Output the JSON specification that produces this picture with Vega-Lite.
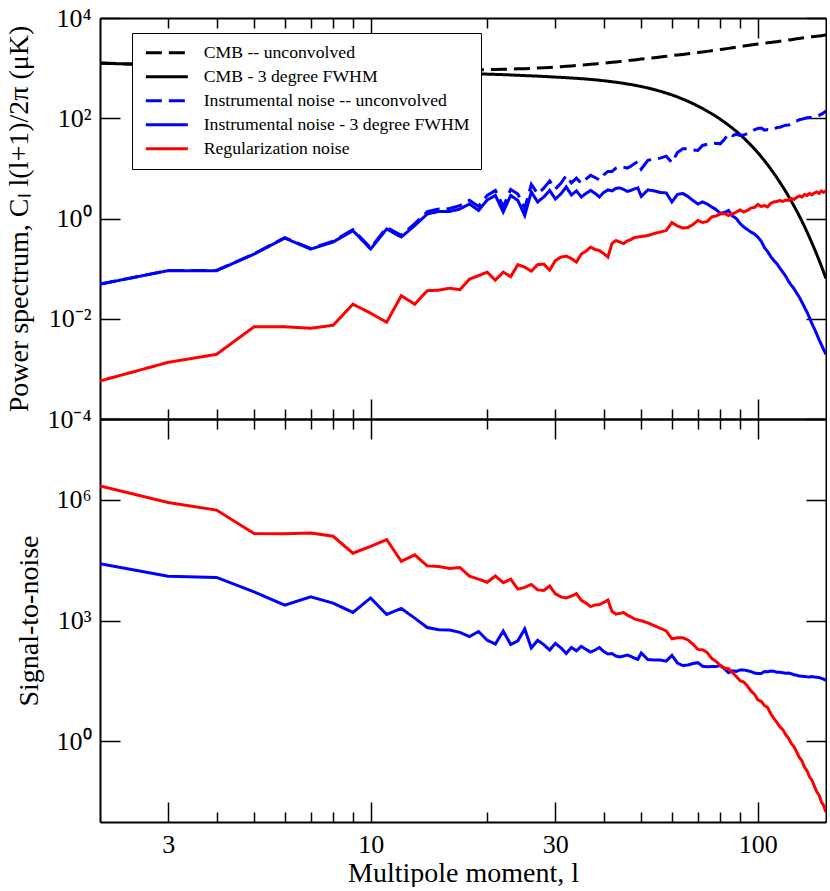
{
  "$schema": "https://vega.github.io/schema/vega-lite/v6.json",
  "background": "white",
  "padding": {"left": 5, "top": 5, "right": 0, "bottom": 0},
  "bounds": "flush",
  "spacing": 0,
  "config": {
    "view": {"stroke": null},
    "font": "Liberation Serif",
    "axis": {
      "labelFont": "Liberation Serif", "titleFont": "Liberation Serif",
      "labelColor": "black", "titleColor": "black", "domainColor": "black", "tickColor": "black",
      "domainWidth": 2, "tickWidth": 1.5, "grid": false,
      "labelFontSize": 26, "titleFontSize": 28, "titleFontWeight": "normal",
      "labelOverlap": false, "labelFlush": false
    }
  },
  "datasets": {
    "spectra": [
      {"l":2,"cmb":1259,"cmb_beam":1255,"noise":0.0491,"noise_beam":0.049,"reg":0.000575,"snr_noise":25700,"snr_reg":2188000},
      {"l":3,"cmb":1148,"cmb_beam":1141,"noise":0.0918,"noise_beam":0.0912,"reg":0.00135,"snr_noise":12590,"snr_reg":851100},
      {"l":4,"cmb":1072,"cmb_beam":1062,"noise":0.0921,"noise_beam":0.0912,"reg":0.00195,"snr_noise":11750,"snr_reg":549500},
      {"l":5,"cmb":1023,"cmb_beam":1008,"noise":0.198,"noise_beam":0.195,"reg":0.00692,"snr_noise":5129,"snr_reg":144500},
      {"l":6,"cmb":1000,"cmb_beam":979,"noise":0.416,"noise_beam":0.407,"reg":0.00692,"snr_noise":2399,"snr_reg":141300},
      {"l":7,"cmb":977,"cmb_beam":951,"noise":0.252,"noise_beam":0.2455,"reg":0.00646,"snr_noise":3890,"snr_reg":147900},
      {"l":8,"cmb":955,"cmb_beam":922,"noise":0.351,"noise_beam":0.339,"reg":0.00741,"snr_noise":2692,"snr_reg":123000},
      {"l":9,"cmb":944,"cmb_beam":903,"noise":0.601,"noise_beam":0.575,"reg":0.0195,"snr_noise":1585,"snr_reg":46770},
      {"l":10,"cmb":933,"cmb_beam":884,"noise":0.259,"noise_beam":0.2455,"reg":0.0129,"snr_noise":3631,"snr_reg":69180},
      {"l":11,"cmb":923,"cmb_beam":865,"noise":0.658,"noise_beam":0.617,"reg":0.00851,"snr_noise":1413,"snr_reg":102300},
      {"l":12,"cmb":912,"cmb_beam":845,"noise":0.461,"noise_beam":0.4266,"reg":0.0288,"snr_noise":1995,"snr_reg":29510},
      {"l":13,"cmb":912,"cmb_beam":834,"noise":0.792,"noise_beam":0.724,"reg":0.0195,"snr_noise":1148,"snr_reg":42660},
      {"l":14,"cmb":912,"cmb_beam":822,"noise":1.365,"noise_beam":1.23,"reg":0.0363,"snr_noise":668,"snr_reg":22650},
      {"l":15,"cmb":912,"cmb_beam":810,"noise":1.554,"noise_beam":1.38,"reg":0.0372,"snr_noise":587,"snr_reg":21800},
      {"l":16,"cmb":912,"cmb_beam":797,"noise":1.579,"noise_beam":1.38,"reg":0.0407,"snr_noise":578,"snr_reg":19570},
      {"l":17,"cmb":916,"cmb_beam":788,"noise":1.802,"noise_beam":1.549,"reg":0.038,"snr_noise":509,"snr_reg":20720},
      {"l":18,"cmb":923,"cmb_beam":779,"noise":2.309,"noise_beam":1.95,"reg":0.0617,"snr_noise":400,"snr_reg":12640},
      {"l":19,"cmb":929,"cmb_beam":770,"noise":1.744,"noise_beam":1.445,"reg":0.0724,"snr_noise":533,"snr_reg":10630},
      {"l":20,"cmb":933,"cmb_beam":759,"noise":2.884,"noise_beam":2.344,"reg":0.0851,"snr_noise":324,"snr_reg":8913},
      {"l":21,"cmb":942,"cmb_beam":750,"noise":3.624,"noise_beam":2.884,"reg":0.0589,"snr_noise":260,"snr_reg":12730},
      {"l":22,"cmb":951,"cmb_beam":741,"noise":1.732,"noise_beam":1.349,"reg":0.0851,"snr_noise":549,"snr_reg":8702},
      {"l":23,"cmb":959,"cmb_beam":731,"noise":3.789,"noise_beam":2.884,"reg":0.0692,"snr_noise":253,"snr_reg":10560},
      {"l":24,"cmb":968,"cmb_beam":720,"noise":3.082,"noise_beam":2.291,"reg":0.1202,"snr_noise":314,"snr_reg":5990},
      {"l":25,"cmb":977,"cmb_beam":709,"noise":1.583,"noise_beam":1.148,"reg":0.1072,"snr_noise":618,"snr_reg":6615},
      {"l":26,"cmb":991,"cmb_beam":701,"noise":4.793,"noise_beam":3.388,"reg":0.0891,"snr_noise":207,"snr_reg":7861},
      {"l":27,"cmb":1005,"cmb_beam":692,"noise":3.106,"noise_beam":2.138,"reg":0.1202,"snr_noise":324,"snr_reg":5752},
      {"l":28,"cmb":1019,"cmb_beam":682,"noise":4.019,"noise_beam":2.692,"reg":0.123,"snr_noise":253,"snr_reg":5544},
      {"l":29,"cmb":1033,"cmb_beam":672,"noise":5.58,"noise_beam":3.631,"reg":0.0933,"snr_noise":185,"snr_reg":7201},
      {"l":30,"cmb":1047,"cmb_beam":662,"noise":3.886,"noise_beam":2.455,"reg":0.1445,"snr_noise":270,"snr_reg":4577},
      {"l":31,"cmb":1067,"cmb_beam":654,"noise":5.044,"noise_beam":3.09,"reg":0.1698,"snr_noise":211,"snr_reg":3848},
      {"l":32,"cmb":1086,"cmb_beam":645,"noise":7.186,"noise_beam":4.266,"reg":0.1778,"snr_noise":151,"snr_reg":3628},
      {"l":33,"cmb":1107,"cmb_beam":636,"noise":5.137,"noise_beam":2.951,"reg":0.1585,"snr_noise":215,"snr_reg":4012},
      {"l":34,"cmb":1127,"cmb_beam":626,"noise":6.387,"noise_beam":3.548,"reg":0.1349,"snr_noise":177,"snr_reg":4644},
      {"l":35,"cmb":1148,"cmb_beam":616,"noise":5.015,"noise_beam":2.692,"reg":0.195,"snr_noise":229,"snr_reg":3160},
      {"l":36,"cmb":1169,"cmb_beam":606,"noise":6.105,"noise_beam":3.162,"reg":0.2239,"snr_noise":192,"snr_reg":2706},
      {"l":37,"cmb":1191,"cmb_beam":595,"noise":7.271,"noise_beam":3.631,"reg":0.2692,"snr_noise":164,"snr_reg":2210},
      {"l":38,"cmb":1213,"cmb_beam":584,"noise":6.576,"noise_beam":3.162,"reg":0.2399,"snr_noise":185,"snr_reg":2433},
      {"l":39,"cmb":1236,"cmb_beam":572,"noise":5.816,"noise_beam":2.692,"reg":0.2291,"snr_noise":213,"snr_reg":2497},
      {"l":40,"cmb":1259,"cmb_beam":560,"noise":7.444,"noise_beam":3.311,"reg":0.1995,"snr_noise":169,"snr_reg":2807},
      {"l":41,"cmb":1282,"cmb_beam":548,"noise":8.698,"noise_beam":3.715,"reg":0.1698,"snr_noise":148,"snr_reg":3226},
      {"l":42,"cmb":1306,"cmb_beam":535,"noise":8.658,"noise_beam":3.548,"reg":0.3162,"snr_noise":151,"snr_reg":1693},
      {"l":43,"cmb":1330,"cmb_beam":523,"noise":10.14,"noise_beam":3.981,"reg":0.3631,"snr_noise":131,"snr_reg":1439},
      {"l":44,"cmb":1355,"cmb_beam":510,"noise":10.83,"noise_beam":4.074,"reg":0.3388,"snr_noise":125,"snr_reg":1504},
      {"l":45,"cmb":1380,"cmb_beam":497,"noise":10.57,"noise_beam":3.802,"reg":0.3162,"snr_noise":131,"snr_reg":1570},
      {"l":46,"cmb":1406,"cmb_beam":483,"noise":10.09,"noise_beam":3.467,"reg":0.3548,"snr_noise":139,"snr_reg":1362},
      {"l":47,"cmb":1432,"cmb_beam":470,"noise":11.06,"noise_beam":3.631,"reg":0.3802,"snr_noise":129,"snr_reg":1236},
      {"l":48,"cmb":1459,"cmb_beam":457,"noise":12.43,"noise_beam":3.89,"reg":0.4169,"snr_noise":117,"snr_reg":1095},
      {"l":49,"cmb":1486,"cmb_beam":443,"noise":13.66,"noise_beam":4.074,"reg":0.4266,"snr_noise":109,"snr_reg":1039},
      {"l":50,"cmb":1514,"cmb_beam":430,"noise":9.705,"noise_beam":2.754,"reg":0.4365,"snr_noise":156,"snr_reg":984},
      {"l":52,"cmb":1563,"cmb_beam":401,"noise":14.5,"noise_beam":3.715,"reg":0.4571,"snr_noise":108,"snr_reg":877},
      {"l":54,"cmb":1614,"cmb_beam":372,"noise":15.38,"noise_beam":3.548,"reg":0.5012,"snr_noise":105,"snr_reg":743},
      {"l":56,"cmb":1667,"cmb_beam":345,"noise":16.02,"noise_beam":3.311,"reg":0.537,"snr_noise":104,"snr_reg":642},
      {"l":58,"cmb":1722,"cmb_beam":318,"noise":17.53,"noise_beam":3.236,"reg":0.5754,"snr_noise":98.2,"snr_reg":552},
      {"l":60,"cmb":1778,"cmb_beam":292,"noise":13.04,"noise_beam":2.138,"reg":0.8318,"snr_noise":136,"snr_reg":351},
      {"l":62,"cmb":1828,"cmb_beam":266,"noise":20.79,"noise_beam":3.02,"reg":0.7079,"snr_noise":87.9,"snr_reg":375},
      {"l":64,"cmb":1879,"cmb_beam":241,"noise":24.69,"noise_beam":3.162,"reg":0.6457,"snr_noise":76.2,"snr_reg":373},
      {"l":66,"cmb":1932,"cmb_beam":218,"noise":24.46,"noise_beam":2.754,"reg":0.6607,"snr_noise":79,"snr_reg":329},
      {"l":68,"cmb":1986,"cmb_beam":196,"noise":23.25,"noise_beam":2.291,"reg":0.7586,"snr_noise":85.4,"snr_reg":258},
      {"l":70,"cmb":2042,"cmb_beam":175,"noise":22.7,"noise_beam":1.95,"reg":0.912,"snr_noise":89.9,"snr_reg":192},
      {"l":72,"cmb":2099,"cmb_beam":157,"noise":28.67,"noise_beam":2.138,"reg":0.8318,"snr_noise":73.2,"snr_reg":188},
      {"l":74,"cmb":2158,"cmb_beam":139,"noise":30.23,"noise_beam":1.95,"reg":0.871,"snr_noise":71.4,"snr_reg":160},
      {"l":76,"cmb":2218,"cmb_beam":123,"noise":30.57,"noise_beam":1.698,"reg":1.072,"snr_noise":72.6,"snr_reg":115},
      {"l":78,"cmb":2280,"cmb_beam":109,"noise":31.76,"noise_beam":1.514,"reg":1.122,"snr_noise":71.8,"snr_reg":96.9},
      {"l":80,"cmb":2344,"cmb_beam":95.5,"noise":30.9,"noise_beam":1.259,"reg":1.23,"snr_noise":75.9,"snr_reg":77.6},
      {"l":82,"cmb":2410,"cmb_beam":83.6,"noise":38,"noise_beam":1.318,"reg":1.259,"snr_noise":63.4,"snr_reg":66.4},
      {"l":84,"cmb":2477,"cmb_beam":72.9,"noise":49.15,"noise_beam":1.445,"reg":1.148,"snr_noise":50.4,"snr_reg":63.5},
      {"l":86,"cmb":2547,"cmb_beam":63.2,"noise":45.2,"noise_beam":1.122,"reg":1.23,"snr_noise":56.4,"snr_reg":51.4},
      {"l":88,"cmb":2618,"cmb_beam":54.7,"noise":47.9,"noise_beam":1.0,"reg":1.349,"snr_noise":54.7,"snr_reg":40.6},
      {"l":90,"cmb":2692,"cmb_beam":47.1,"noise":45.4,"noise_beam":0.794,"reg":1.479,"snr_noise":59.3,"snr_reg":31.9},
      {"l":92,"cmb":2754,"cmb_beam":40.3,"noise":46.3,"noise_beam":0.676,"reg":1.349,"snr_noise":59.5,"snr_reg":29.8},
      {"l":94,"cmb":2818,"cmb_beam":34.2,"noise":49.6,"noise_beam":0.603,"reg":1.445,"snr_noise":56.8,"snr_reg":23.7},
      {"l":96,"cmb":2884,"cmb_beam":29,"noise":53.4,"noise_beam":0.537,"reg":1.622,"snr_noise":54,"snr_reg":17.9},
      {"l":98,"cmb":2951,"cmb_beam":24.5,"noise":59,"noise_beam":0.49,"reg":1.66,"snr_noise":50,"snr_reg":14.75},
      {"l":100,"cmb":3020,"cmb_beam":20.6,"noise":62.6,"noise_beam":0.427,"reg":1.905,"snr_noise":48.3,"snr_reg":10.8},
      {"l":102,"cmb":3076,"cmb_beam":17.15,"noise":63.6,"noise_beam":0.355,"reg":1.738,"snr_noise":48.3,"snr_reg":9.87},
      {"l":104,"cmb":3133,"cmb_beam":14.24,"noise":57.9,"noise_beam":0.263,"reg":1.82,"snr_noise":54.1,"snr_reg":7.83},
      {"l":106,"cmb":3192,"cmb_beam":11.78,"noise":59.3,"noise_beam":0.219,"reg":1.698,"snr_noise":53.8,"snr_reg":6.94},
      {"l":108,"cmb":3251,"cmb_beam":9.7,"noise":58.2,"noise_beam":0.174,"reg":1.995,"snr_noise":55.8,"snr_reg":4.86},
      {"l":110,"cmb":3311,"cmb_beam":7.96,"noise":60.1,"noise_beam":0.1445,"reg":2.138,"snr_noise":55.1,"snr_reg":3.72},
      {"l":112,"cmb":3373,"cmb_beam":6.5,"noise":65.3,"noise_beam":0.1259,"reg":2.188,"snr_noise":51.7,"snr_reg":2.973},
      {"l":114,"cmb":3436,"cmb_beam":5.29,"noise":66.4,"noise_beam":0.1023,"reg":2.291,"snr_noise":51.7,"snr_reg":2.311},
      {"l":116,"cmb":3499,"cmb_beam":4.29,"noise":69.4,"noise_beam":0.0851,"reg":2.188,"snr_noise":50.4,"snr_reg":1.962},
      {"l":118,"cmb":3565,"cmb_beam":3.47,"noise":72.8,"noise_beam":0.0708,"reg":2.344,"snr_noise":49,"snr_reg":1.479},
      {"l":120,"cmb":3631,"cmb_beam":2.79,"noise":73.2,"noise_beam":0.0562,"reg":2.291,"snr_noise":49.6,"snr_reg":1.217},
      {"l":122,"cmb":3698,"cmb_beam":2.23,"noise":77.4,"noise_beam":0.0468,"reg":2.512,"snr_noise":47.8,"snr_reg":0.889},
      {"l":124,"cmb":3767,"cmb_beam":1.78,"noise":84.1,"noise_beam":0.0398,"reg":2.399,"snr_noise":44.8,"snr_reg":0.743},
      {"l":126,"cmb":3837,"cmb_beam":1.418,"noise":87.6,"noise_beam":0.0324,"reg":2.63,"snr_noise":43.8,"snr_reg":0.539},
      {"l":128,"cmb":3908,"cmb_beam":1.122,"noise":93.7,"noise_beam":0.0269,"reg":2.818,"snr_noise":41.7,"snr_reg":0.398},
      {"l":130,"cmb":3981,"cmb_beam":0.885,"noise":96.2,"noise_beam":0.0214,"reg":2.692,"snr_noise":41.4,"snr_reg":0.329},
      {"l":132,"cmb":4036,"cmb_beam":0.692,"noise":99,"noise_beam":0.017,"reg":3.02,"snr_noise":40.7,"snr_reg":0.229},
      {"l":134,"cmb":4093,"cmb_beam":0.539,"noise":102.4,"noise_beam":0.0135,"reg":2.884,"snr_noise":40,"snr_reg":0.187},
      {"l":136,"cmb":4150,"cmb_beam":0.418,"noise":103.9,"noise_beam":0.0105,"reg":3.162,"snr_noise":39.9,"snr_reg":0.132},
      {"l":138,"cmb":4207,"cmb_beam":0.323,"noise":103.4,"noise_beam":0.00794,"reg":2.951,"snr_noise":40.7,"snr_reg":0.1095},
      {"l":140,"cmb":4266,"cmb_beam":0.249,"noise":108.2,"noise_beam":0.00631,"reg":3.236,"snr_noise":39.4,"snr_reg":0.0769},
      {"l":142,"cmb":4325,"cmb_beam":0.191,"noise":111.1,"noise_beam":0.0049,"reg":3.388,"snr_noise":38.9,"snr_reg":0.0563},
      {"l":144,"cmb":4385,"cmb_beam":0.146,"noise":114.5,"noise_beam":0.0038,"reg":3.162,"snr_noise":38.3,"snr_reg":0.0461},
      {"l":146,"cmb":4446,"cmb_beam":0.111,"noise":121.2,"noise_beam":0.00302,"reg":3.548,"snr_noise":36.7,"snr_reg":0.0312},
      {"l":148,"cmb":4508,"cmb_beam":0.0839,"noise":128.8,"noise_beam":0.0024,"reg":3.311,"snr_noise":35,"snr_reg":0.0254},
      {"l":150,"cmb":4571,"cmb_beam":0.0633,"noise":140.7,"noise_beam":0.00195,"reg":3.631,"snr_noise":32.5,"snr_reg":0.0175}
    ]
  },
  "vconcat": [
    {
      "width": 726,
      "height": 401,
      "data": {"name": "spectra"},
      "layer": [
        {
          "mark": {"type": "line", "strokeWidth": 3, "clip": true},
          "encoding": {
            "x": {"field": "l", "type": "quantitative",
              "scale": {"type": "log", "domain": [2, 150], "nice": false},
              "axis": {"orient": "bottom", "values": [3,4,5,6,7,8,9,10,20,30,40,50,60,70,80,90,100], "labels": false, "title": null,
                "tickSize": {"expr": "datum.value == 10 || datum.value == 100 ? -20 : -10"}}},
            "y": {"field": "cmb", "type": "quantitative",
              "scale": {"type": "log", "domain": [0.0001, 10000], "nice": false},
              "axis": {"orient": "left", "values": [0.0001, 0.01, 1, 100, 10000],
                "labelExpr": "datum.value > 5000 ? '10⁴' : datum.value > 50 ? '10²' : datum.value > 0.5 ? '10⁰' : datum.value > 0.005 ? '10⁻²' : '10⁻⁴'",
                "tickSize": -20, "labelPadding": 29,
                "title": "Power spectrum, Cₗ l(l+1)/2π (μK)", "titlePadding": 13}},
            "color": {"datum": "CMB -- unconvolved", "type": "nominal",
              "scale": {"domain": ["CMB -- unconvolved", "CMB - 3 degree FWHM", "Instrumental noise -- unconvolved", "Instrumental noise - 3 degree FWHM", "Regularization noise"], "range": ["black", "black", "blue", "blue", "red"]},
              "legend": {"title": null, "orient": "none", "legendX": 32, "legendY": 15, "symbolType": "M-4.2,0H4.2", "symbolSize": 100, "symbolStrokeWidth": 3, "symbolOffset": 15, "labelOffset": 28, "labelFont": "Liberation Serif", "labelFontSize": 17.7, "labelColor": "black", "labelLimit": 0, "rowPadding": 5, "padding": 11, "strokeColor": "black", "fillColor": "white"}},
            "strokeDash": {"datum": "CMB -- unconvolved", "type": "nominal",
              "scale": {"domain": ["CMB -- unconvolved", "CMB - 3 degree FWHM", "Instrumental noise -- unconvolved", "Instrumental noise - 3 degree FWHM", "Regularization noise"], "range": [[16, 7], [1, 0], [16, 7], [1, 0], [1, 0]]},
              "legend": {"title": null, "orient": "none", "legendX": 32, "legendY": 15, "symbolType": "M-4.2,0H4.2", "symbolSize": 100, "symbolStrokeWidth": 3, "symbolOffset": 15, "labelOffset": 28, "labelFont": "Liberation Serif", "labelFontSize": 17.7, "labelColor": "black", "labelLimit": 0, "rowPadding": 5, "padding": 11, "strokeColor": "black", "fillColor": "white"}}
          }
        },
        {
          "mark": {"type": "line", "strokeWidth": 3, "clip": true},
          "encoding": {
            "x": {"field": "l", "type": "quantitative",
              "scale": {"type": "log", "domain": [2, 150], "nice": false},
              "axis": {"orient": "top", "values": [3,4,5,6,7,8,9,10,20,30,40,50,60,70,80,90,100], "labels": false, "title": null,
                "tickSize": {"expr": "datum.value == 10 || datum.value == 100 ? -20 : -10"}}},
            "y": {"field": "cmb_beam", "type": "quantitative",
              "scale": {"type": "log", "domain": [0.0001, 10000], "nice": false},
              "axis": {"orient": "right", "values": [0.0001, 0.01, 1, 100, 10000], "labels": false, "title": null, "tickSize": -20}},
            "color": {"datum": "CMB - 3 degree FWHM", "type": "nominal"},
            "strokeDash": {"datum": "CMB - 3 degree FWHM", "type": "nominal"}
          }
        },
        {
          "mark": {"type": "line", "strokeWidth": 3, "clip": true},
          "encoding": {
            "x": {"field": "l", "type": "quantitative", "scale": {"type": "log", "domain": [2, 150], "nice": false}, "axis": null},
            "y": {"field": "noise", "type": "quantitative", "scale": {"type": "log", "domain": [0.0001, 10000], "nice": false}, "axis": null},
            "color": {"datum": "Instrumental noise -- unconvolved", "type": "nominal"},
            "strokeDash": {"datum": "Instrumental noise -- unconvolved", "type": "nominal"}
          }
        },
        {
          "mark": {"type": "line", "strokeWidth": 3, "clip": true},
          "encoding": {
            "x": {"field": "l", "type": "quantitative", "scale": {"type": "log", "domain": [2, 150], "nice": false}, "axis": null},
            "y": {"field": "noise_beam", "type": "quantitative", "scale": {"type": "log", "domain": [0.0001, 10000], "nice": false}, "axis": null},
            "color": {"datum": "Instrumental noise - 3 degree FWHM", "type": "nominal"},
            "strokeDash": {"datum": "Instrumental noise - 3 degree FWHM", "type": "nominal"}
          }
        },
        {
          "mark": {"type": "line", "strokeWidth": 3, "clip": true},
          "encoding": {
            "x": {"field": "l", "type": "quantitative", "scale": {"type": "log", "domain": [2, 150], "nice": false}, "axis": null},
            "y": {"field": "reg", "type": "quantitative", "scale": {"type": "log", "domain": [0.0001, 10000], "nice": false}, "axis": null},
            "color": {"datum": "Regularization noise", "type": "nominal"},
            "strokeDash": {"datum": "Regularization noise", "type": "nominal"}
          }
        }
      ]
    },
    {
      "width": 726,
      "height": 403,
      "data": {"name": "spectra"},
      "layer": [
        {
          "mark": {"type": "line", "color": "blue", "strokeWidth": 3, "clip": true},
          "encoding": {
            "x": {"field": "l", "type": "quantitative",
              "scale": {"type": "log", "domain": [2, 150], "nice": false},
              "axis": {"orient": "top", "values": [3,4,5,6,7,8,9,10,20,30,40,50,60,70,80,90,100], "labels": false, "title": null,
                "tickSize": {"expr": "datum.value == 3 || datum.value == 10 || datum.value == 30 || datum.value == 100 ? -20 : -10"}}},
            "y": {"field": "snr_noise", "type": "quantitative",
              "scale": {"type": "log", "domain": [0.01, 100000000], "nice": false},
              "axis": {"orient": "left", "values": [1, 1000, 1000000],
                "labelExpr": "datum.value > 500000 ? '10⁶' : datum.value > 500 ? '10³' : '10⁰'",
                "tickSize": -20, "labelPadding": 29,
                "title": "Signal-to-noise", "titlePadding": 12}}
          }
        },
        {
          "mark": {"type": "line", "color": "red", "strokeWidth": 3, "clip": true},
          "encoding": {
            "x": {"field": "l", "type": "quantitative",
              "scale": {"type": "log", "domain": [2, 150], "nice": false},
              "axis": {"orient": "bottom", "values": [3,4,5,6,7,8,9,10,20,30,40,50,60,70,80,90,100],
                "labelExpr": "datum.value == 3 || datum.value == 10 || datum.value == 30 || datum.value == 100 ? '' + datum.value : ''",
                "tickSize": {"expr": "datum.value == 3 || datum.value == 10 || datum.value == 30 || datum.value == 100 ? -20 : -10"},
                "labelPadding": 29,
                "title": "Multipole moment, l", "titlePadding": -8}},
            "y": {"field": "snr_reg", "type": "quantitative",
              "scale": {"type": "log", "domain": [0.01, 100000000], "nice": false},
              "axis": {"orient": "right", "values": [1, 1000, 1000000], "labels": false, "title": null, "tickSize": -20}}
          }
        }
      ]
    }
  ]
}
